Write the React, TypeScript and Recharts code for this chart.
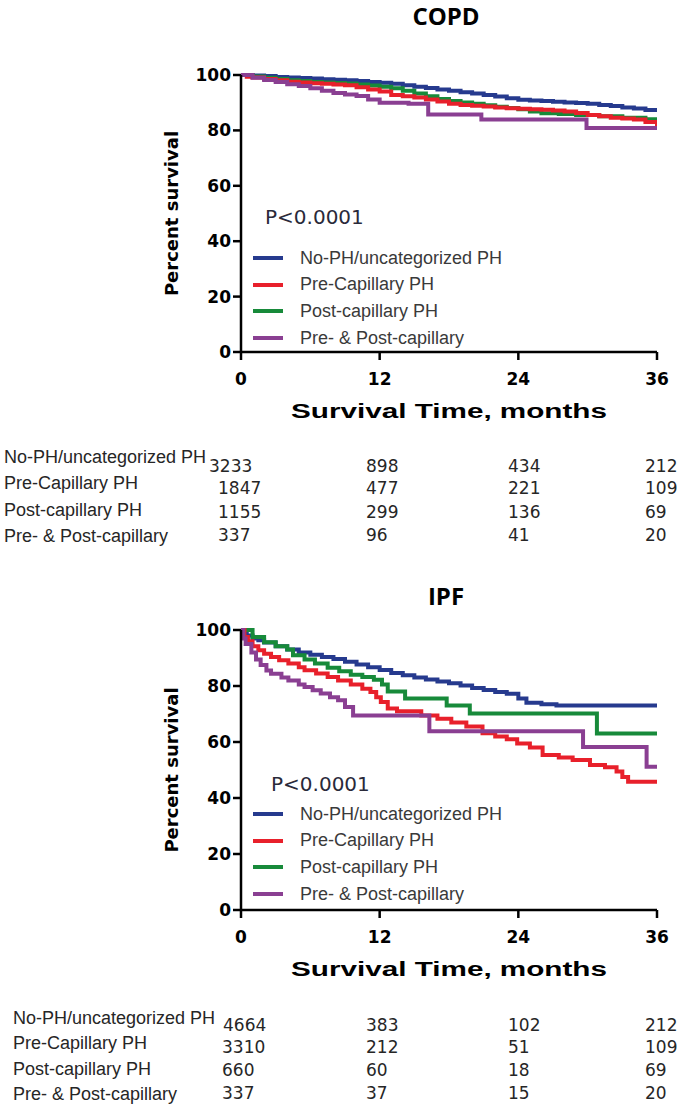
import React from "react";
import { LineChart, Line, XAxis, YAxis, Legend } from "recharts";

const seriesNames = [
  "No-PH/uncategorized PH",
  "Pre-Capillary PH",
  "Post-capillary PH",
  "Pre- & Post-capillary",
];
const seriesColors = ["#263a8e", "#e8202b", "#178a3a", "#8a3f92"];
const timeTicks = [0, 12, 24, 36];
const survivalTicks = [0, 20, 40, 60, 80, 100];

// COPD curves (months, percent survival)
const copdNoPhTime = [0, 1, 2, 3, 4, 5, 6, 7, 8, 9, 10, 11, 12, 13, 14, 15, 16, 17, 18, 19, 20, 21, 22, 23, 24, 25, 26, 27, 28, 29, 30, 31, 32, 33, 34, 35, 36];
const copdNoPhSurv = [100, 99.8, 99.6, 99.3, 99.1, 98.9, 98.7, 98.5, 98.3, 98.1, 97.8, 97.5, 97.2, 96.8, 96.3, 95.8, 95.3, 94.8, 94.3, 93.8, 93.3, 92.8, 92.2, 91.6, 91.1, 90.8, 90.6, 90.3, 90.1, 89.9, 89.6, 89.2, 88.8, 88.3, 87.9, 87.4, 86.8];
const copdPreTime = [0, 0.5, 1, 2, 3, 4, 5, 6, 7, 8, 9, 10, 11, 12, 13, 14, 15, 16, 17, 18, 19, 20, 21, 22, 23, 24, 25, 26, 27, 28, 29, 30, 31, 32, 33, 34, 35, 36];
const copdPreSurv = [100, 99.4, 99.1, 98.6, 98.1, 97.6, 97.3, 97.0, 96.8, 96.6, 96.3, 95.6, 94.8, 94.0, 92.8, 92.3, 91.9, 91.2, 90.4, 89.6, 89.2, 88.9, 88.6, 88.3, 88.0, 87.8, 87.6, 87.5, 87.2, 86.8, 86.3, 85.6, 85.1, 84.6, 84.3, 83.9, 83.0, 81.5];
const copdPostTime = [0, 1, 2, 3, 4, 5, 6, 7, 8, 9, 10, 11, 12, 13, 14, 15, 16, 17, 18, 19, 20, 21, 22, 23, 24, 25, 26, 27.5, 29, 31, 33, 35, 36];
const copdPostSurv = [100, 99.5, 99.0, 98.6, 98.1, 97.8, 97.5, 97.3, 97.1, 96.9, 96.6, 96.2, 95.8, 95.2, 94.3, 93.3, 92.3, 91.3, 90.6, 90.1, 89.6, 89.1, 88.5, 88.1, 87.6, 86.8, 86.2, 85.9, 85.6, 85.1, 84.6, 84.0, 83.3];
const copdBothTime = [0, 1, 2, 3, 4, 5, 6, 7, 8, 9, 10, 11, 12, 14.5, 16.2, 20.8, 29.9, 36];
const copdBothSurv = [100, 99.0, 98.2, 97.5, 96.7, 96.0, 95.2, 94.3, 93.5, 93.0, 92.4, 91.2, 90.0, 89.6, 85.7, 83.9, 80.9, 80.9];

// IPF curves
const ipfNoPhTime = [0, 0.5, 1, 1.5, 2, 3, 4, 5, 6, 7, 8, 9, 10, 11, 12, 13, 14, 15, 16, 17, 18, 19, 20, 21, 22, 23, 24, 24.7, 26, 27.3, 36];
const ipfNoPhSurv = [100, 98, 97, 96.3, 95.5, 94.2, 93, 92, 91.2, 90.4, 89.6, 88.7, 87.7, 86.7, 85.7, 84.6, 83.8, 83.0, 82.3, 81.6, 81.0, 80.2, 79.3, 78.6, 77.9, 77.2, 75.5, 74, 73.5, 73, 73];
const ipfPreTime = [0, 0.3, 0.6, 1, 1.5, 2, 2.6, 3.3, 4.1, 5, 5.5, 6.5, 7.5, 8.4, 9.5, 10.5, 11.2, 11.7, 12.1, 12.7, 13.5, 15.6, 17, 18.2, 19.5, 20.9, 22, 23, 23.9, 25, 26.1, 27.5, 28.7, 30.2, 31.5, 32.5, 33, 33.5, 36];
const ipfPreSurv = [100, 97.5, 96, 94.2, 92.8, 91.5, 90.4, 89.2, 88, 86.7, 85.6, 84.5, 83.2, 82, 80.5, 79, 77.9, 76, 74.3, 72, 71, 69.5, 68.3, 67, 65.5, 63.1, 62, 61, 59.5, 58, 55.4, 54.5, 53.6, 51.8, 51, 49.5, 47.5, 45.8, 45.8];
const ipfPostTime = [0, 1, 2, 3, 4, 4.5, 5.5, 6.4, 7.5, 8.5, 9.5, 10.5, 11.5, 12.2, 12.7, 14.2, 17.8, 19.8, 30.8, 36];
const ipfPostSurv = [100, 97.5, 95.6, 94.2, 93, 91, 89.5, 88, 86.5, 85.3, 84, 83.2, 82.2, 80.5, 78, 75.5, 73, 70.2, 63, 63];
const ipfBothTime = [0, 0.2, 0.4, 0.9, 1.3, 1.7, 2.2, 2.6, 3.5, 4.1, 5, 5.5, 6.2, 6.9, 7.7, 8.4, 9, 9.7, 16.3, 29.6, 35.1, 36];
const ipfBothSurv = [100, 97, 95, 92, 89.5, 87.5, 85.5, 84.4, 83, 82, 80.5, 79.6, 78.5, 77.3, 76, 74.9, 72.5, 69.5, 63.8, 58.2, 51.2, 51.2];

// numbers at risk at 0, 12, 24, 36 months
const copdNoPhRisk = [3233, 898, 434, 212];
const copdPreRisk = [1847, 477, 221, 109];
const copdPostRisk = [1155, 299, 136, 69];
const copdBothRisk = [337, 96, 41, 20];
const ipfNoPhRisk = [4664, 383, 102, 212];
const ipfPreRisk = [3310, 212, 51, 109];
const ipfPostRisk = [660, 60, 18, 69];
const ipfBothRisk = [337, 37, 15, 20];

const toPoints = (time: number[], surv: number[]) =>
  time.map((t, i) => ({ t, s: surv[i] }));

const copdCurves = [
  toPoints(copdNoPhTime, copdNoPhSurv),
  toPoints(copdPreTime, copdPreSurv),
  toPoints(copdPostTime, copdPostSurv),
  toPoints(copdBothTime, copdBothSurv),
];
const ipfCurves = [
  toPoints(ipfNoPhTime, ipfNoPhSurv),
  toPoints(ipfPreTime, ipfPreSurv),
  toPoints(ipfPostTime, ipfPostSurv),
  toPoints(ipfBothTime, ipfBothSurv),
];

// draw order: blue, green, red, purple
const drawOrder = [0, 2, 1, 3];

const tickFont = { fontFamily: "DejaVu Sans", fontWeight: 700, fontSize: 17, fill: "#000" };

const YTitle = ({ viewBox }: any) => {
  const cx = 171;
  const cy = viewBox.y + viewBox.height / 2;
  return (
    <text
      x={cx}
      y={cy}
      transform={`rotate(-90 ${cx} ${cy})`}
      textAnchor="middle"
      dominantBaseline="central"
      style={{ fontFamily: "DejaVu Sans", fontWeight: 700, fontSize: 18, fill: "#000" }}
    >
      Percent survival
    </text>
  );
};

// the source figure is stretched sideways, so the title is widened to match
const XTitle = ({ viewBox }: any) => (
  <text
    x={viewBox.x + viewBox.width / 2}
    y={viewBox.y + 59}
    textAnchor="middle"
    dominantBaseline="central"
    textLength={316}
    lengthAdjust="spacingAndGlyphs"
    style={{ fontFamily: "Liberation Sans", fontWeight: 700, fontSize: 20, fill: "#000" }}
  >
    Survival Time, months
  </text>
);

const KMLegend = ({ pLeft, gap }: { pLeft: number; gap: number }) => (
  <div style={{ fontFamily: "Liberation Sans", fontSize: 18, color: "#3a3a3a" }}>
    <div
      style={{
        marginLeft: pLeft,
        height: 24,
        lineHeight: "24px",
        fontFamily: "DejaVu Sans",
        fontSize: 20,
        color: "#2a2a3a",
        marginBottom: gap,
      }}
    >
      P&lt;0.0001
    </div>
    {seriesNames.map((name, i) => (
      <div key={name} style={{ display: "flex", alignItems: "center", height: 26.6 }}>
        <span
          style={{
            display: "inline-block",
            width: 30,
            height: 4,
            background: seriesColors[i],
            marginRight: 17,
          }}
        />
        <span>{name}</span>
      </div>
    ))}
  </div>
);

type PanelProps = {
  top: number;
  height: number;
  plotTop: number;
  curves: { t: number; s: number }[][];
  legendLeft: number;
  legendTop: number;
  pLeft: number;
  gap: number;
};

const KMPanel = ({ top, height, plotTop, curves, legendLeft, legendTop, pLeft, gap }: PanelProps) => (
  <div style={{ position: "absolute", left: 0, top }}>
    <LineChart width={680} height={height} margin={{ top: plotTop, right: 23, bottom: 0, left: 141 }}>
      <XAxis
        dataKey="t"
        type="number"
        domain={[0, 36]}
        ticks={timeTicks}
        allowDataOverflow
        height={72}
        axisLine={{ stroke: "#000", strokeWidth: 2.5 }}
        tickLine={{ stroke: "#000", strokeWidth: 2.5 }}
        tickSize={8}
        tickMargin={13}
        tick={tickFont}
        label={<XTitle />}
      />
      <YAxis
        type="number"
        domain={[0, 100]}
        ticks={survivalTicks}
        width={100}
        axisLine={{ stroke: "#000", strokeWidth: 2.5 }}
        tickLine={{ stroke: "#000", strokeWidth: 2.5 }}
        tickSize={8}
        tickMargin={2}
        tick={tickFont}
        label={<YTitle />}
      />
      <Legend
        layout="vertical"
        align="center"
        verticalAlign="middle"
        wrapperStyle={{ left: legendLeft, top: legendTop, width: 300 }}
        content={() => <KMLegend pLeft={pLeft} gap={gap} />}
      />
      {drawOrder.map((i) => (
        <Line
          key={seriesNames[i]}
          data={curves[i]}
          dataKey="s"
          name={seriesNames[i]}
          type="stepAfter"
          stroke={seriesColors[i]}
          strokeWidth={4}
          dot={false}
          activeDot={false}
          isAnimationActive={false}
        />
      ))}
    </LineChart>
  </div>
);

type TableProps = {
  labelLeft: number;
  labelCenters: number[];
  numCenters: number[];
  colLefts: number[];
  firstLeft: number[];
  rows: number[][];
};

const RiskTable = ({ labelLeft, labelCenters, numCenters, colLefts, firstLeft, rows }: TableProps) => (
  <>
    {seriesNames.map((name, r) => (
      <div
        key={name}
        style={{
          position: "absolute",
          left: labelLeft,
          top: labelCenters[r] - 11,
          lineHeight: "22px",
          fontFamily: "Liberation Sans",
          fontSize: 18,
          color: "#262626",
          whiteSpace: "nowrap",
        }}
      >
        {name}
      </div>
    ))}
    {rows.map((vals, r) =>
      vals.map((v, c) => (
        <div
          key={`${r}-${c}`}
          style={{
            position: "absolute",
            left: c === 0 ? firstLeft[r] : colLefts[c],
            top: numCenters[r] - 11,
            lineHeight: "22px",
            fontFamily: "DejaVu Sans",
            fontSize: 17,
            color: "#262626",
          }}
        >
          {v}
        </div>
      ))
    )}
  </>
);

const titleStyle: React.CSSProperties = {
  position: "absolute",
  left: 346,
  width: 200,
  textAlign: "center",
  fontFamily: "Open Sans",
  fontWeight: 700,
  fontSize: 24,
  lineHeight: "26px",
  color: "#000",
};

export default function App() {
  return (
    <div
      style={{
        position: "absolute",
        left: 0,
        top: 0,
        width: 680,
        height: 1111,
        background: "#fff",
        overflow: "hidden",
      }}
    >
      <div style={{ ...titleStyle, top: 3 }}>COPD</div>
      <KMPanel
        top={0}
        height={424}
        plotTop={75}
        curves={copdCurves}
        legendLeft={253}
        legendTop={205}
        pLeft={12}
        gap={16}
      />
      <RiskTable
        labelLeft={4}
        labelCenters={[457, 483, 510, 536]}
        numCenters={[466, 488, 512, 535]}
        colLefts={[218, 366, 508, 645]}
        firstLeft={[209, 218, 218, 218]}
        rows={[copdNoPhRisk, copdPreRisk, copdPostRisk, copdBothRisk]}
      />

      <div style={{ ...titleStyle, top: 583 }}>IPF</div>
      <KMPanel
        top={560}
        height={422}
        plotTop={70}
        curves={ipfCurves}
        legendLeft={253}
        legendTop={212}
        pLeft={18}
        gap={5}
      />
      <RiskTable
        labelLeft={13}
        labelCenters={[1018, 1043, 1069, 1094]}
        numCenters={[1025, 1047, 1070, 1093]}
        colLefts={[222, 366, 508, 645]}
        firstLeft={[223, 222, 222, 222]}
        rows={[ipfNoPhRisk, ipfPreRisk, ipfPostRisk, ipfBothRisk]}
      />
    </div>
  );
}
